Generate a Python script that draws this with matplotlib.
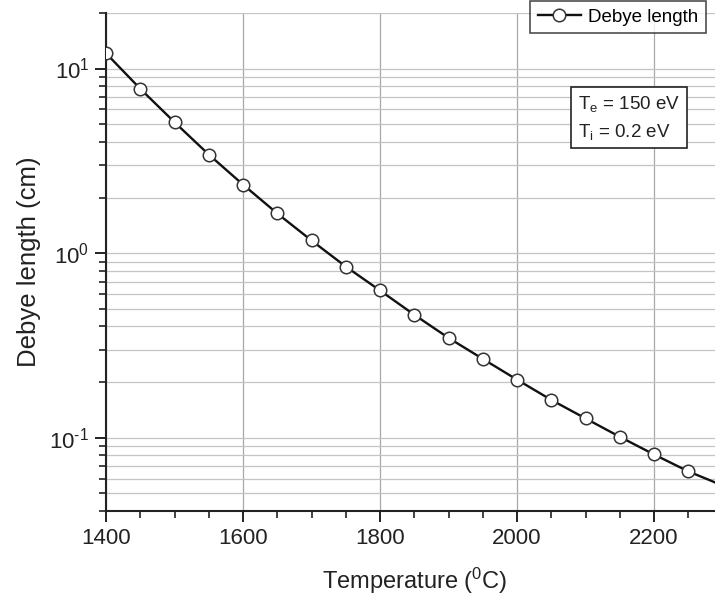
import matplotlib
matplotlib.use("Agg")
import matplotlib.pyplot as plt
from matplotlib.ticker import FixedLocator, LogLocator, FuncFormatter, NullFormatter
import numpy as np

plt.rcParams['font.family'] = ['Liberation Sans', 'DejaVu Sans']
plt.rcParams['mathtext.fontset'] = 'custom'
plt.rcParams['mathtext.rm'] = 'Liberation Sans'
plt.rcParams['mathtext.it'] = 'Liberation Sans:italic'

# Debye length vs. temperature (log scale)
temperature = [1400, 1450, 1500, 1550, 1600, 1650, 1700, 1750, 1800, 1850,
               1900, 1950, 2000, 2050, 2100, 2150, 2200, 2250, 2300]
debye_cm = [12.1, 7.77, 5.12, 3.42, 2.35, 1.64, 1.17, 0.845, 0.627, 0.463,
            0.347, 0.267, 0.206, 0.160, 0.127, 0.101, 0.081, 0.0656, 0.055]
n_markers = 18  # last point only extends the curve
x_major = [1400, 1600, 1800, 2000, 2200]

fig = plt.figure(figsize=(7.15, 6.06), dpi=100)
ax = fig.add_axes([106 / 715, 95 / 606, (722.5 - 106) / 715, 498 / 606])

ax.plot(temperature, debye_cm, '-', color='#111111', lw=1.7, marker='o',
        markevery=slice(0, n_markers), ms=9, mfc='white', mec='#333333',
        mew=1.1, label='Debye length', zorder=3)

ax.set_yscale('log')
ax.set_xlim(1400, 2300)
ax.set_ylim(0.04, 20)

ax.xaxis.set_major_locator(FixedLocator(x_major))
ax.xaxis.set_minor_locator(FixedLocator(np.arange(1400, 2301, 50)))
ax.yaxis.set_major_locator(LogLocator(base=10))
ax.yaxis.set_minor_locator(LogLocator(base=10, subs=np.arange(2, 10)))


def decade_label(v, pos):
    e = int(round(np.log10(v)))
    sup = ('\u2010%d' % -e) if e < 0 else '%d' % e
    return r'$\mathregular{10^{%s}}$' % sup


ax.yaxis.set_major_formatter(FuncFormatter(decade_label))
ax.yaxis.set_minor_formatter(NullFormatter())

ax.grid(True, which='major', axis='x', color='#a8a8a8', lw=0.9)
ax.grid(True, which='both', axis='y', color='#c4c4c4', lw=0.9)
ax.set_axisbelow(True)

for side in ('top', 'right'):
    ax.spines[side].set_visible(False)
for side in ('left', 'bottom'):
    ax.spines[side].set_linewidth(1.5)
    ax.spines[side].set_color('#222222')

ax.tick_params(which='major', direction='out', length=8, width=1.4,
               labelsize=16, colors='#222222', pad=4)
ax.tick_params(which='minor', direction='out', length=5, width=1.2,
               colors='#222222')

ax.set_xlabel(r'Temperature ($\mathregular{^0}$C)', fontsize=17,
              color='#222222', labelpad=12)
ax.set_ylabel('Debye length (cm)', fontsize=18.5, color='#222222', labelpad=6)

leg = fig.legend(loc='upper right', bbox_to_anchor=(706 / 715, 1 - 1 / 606),
                 fontsize=13.5, frameon=True, fancybox=False, handlelength=2.3,
                 borderpad=0.4, handletextpad=0.4, borderaxespad=0)
leg.get_frame().set_edgecolor('#222222')
leg.get_frame().set_linewidth(1.2)

fig.text(578 / 715, 1 - 94 / 606,
         'T$_\\mathregular{e}$ = 150 eV\nT$_\\mathregular{i}$ = 0.2 eV',
         fontsize=13.5, va='top', ha='left', color='#222222', linespacing=1.5,
         bbox=dict(boxstyle='square,pad=0.35', fc='white', ec='#222222', lw=1.2))

fig.savefig('out.png', dpi=100, facecolor='white')
